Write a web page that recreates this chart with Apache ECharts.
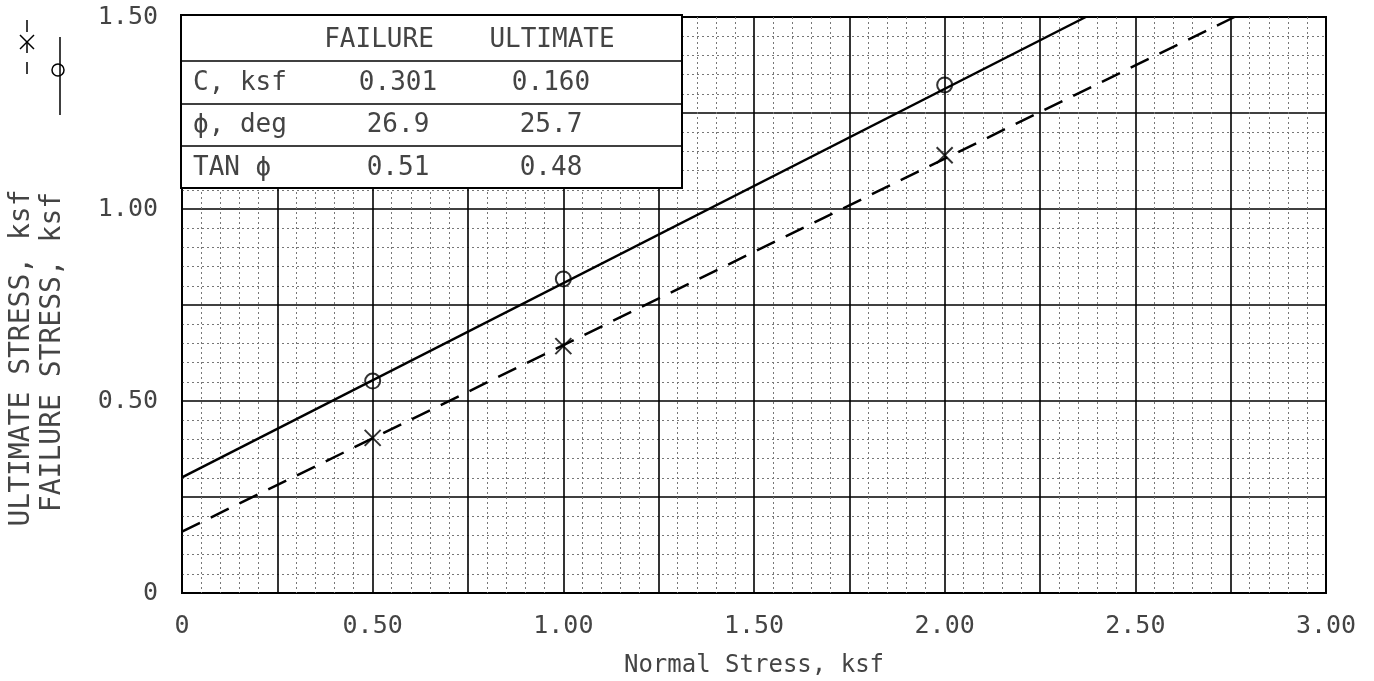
<!DOCTYPE html>
<html>
<head>
<meta charset="utf-8">
<script src="https://cdn.jsdelivr.net/npm/echarts@6/dist/echarts.min.js"></script>
<style>
  html, body { margin: 0; padding: 0; background: #fff; }
  #chart { width: 1374px; height: 681px; }
</style>
</head>
<body>
<div id="chart"></div>
<script>
// test points
const normalStress = [0.5, 1.0, 2.0];
const failureStress = [0.552, 0.818, 1.323];
const ultimateStress = [0.404, 0.643, 1.14];

// fitted envelopes (intercept at 0, end where they leave the frame)
const failureFit = [[0, 0.301], [2.37, 1.5]];
const ultimateFit = [[0, 0.160], [2.76, 1.5]];

// strength table
const tableHeader = ['FAILURE', 'ULTIMATE'];
const tableLabels = ['C, ksf', 'ϕ, deg', 'TAN ϕ'];
const failureParams = ['0.301', '26.9', '0.51'];
const ultimateParams = ['0.160', '25.7', '0.48'];

const MONO = '"DejaVu Sans Mono", monospace';
const TXT = '#444';

let chart = echarts.init(document.getElementById('chart'));

function tickFmt(v) {
  if (Math.abs(v * 2 - Math.round(v * 2)) > 1e-6) return '';
  return v === 0 ? '0' : v.toFixed(2);
}

// table overlay in the upper left corner
let tableEls = [];
const tL = 181, tT = 15, tW = 501, tH = 173;
const rowLines = [61, 104, 146];
const rowMid = [40, 83, 125, 168];
tableEls.push({
  type: 'rect', shape: { x: tL, y: tT, width: tW, height: tH },
  style: { fill: '#fff', stroke: '#000', lineWidth: 2 }, z: 10
});
rowLines.forEach(function (y) {
  tableEls.push({
    type: 'line', shape: { x1: tL, y1: y, x2: tL + tW, y2: y },
    style: { stroke: '#000', lineWidth: 1.5 }, z: 11
  });
});
const tFont = '26px ' + MONO;
tableEls.push({ type: 'text', x: 379, y: rowMid[0], z: 12,
  style: { text: tableHeader[0], fill: TXT, font: tFont, align: 'center', verticalAlign: 'middle' } });
tableEls.push({ type: 'text', x: 552, y: rowMid[0], z: 12,
  style: { text: tableHeader[1], fill: TXT, font: tFont, align: 'center', verticalAlign: 'middle' } });
tableLabels.forEach(function (lab, i) {
  tableEls.push({ type: 'text', x: 193, y: rowMid[i + 1], z: 12,
    style: { text: lab, fill: TXT, font: tFont, align: 'left', verticalAlign: 'middle' } });
  tableEls.push({ type: 'text', x: 398, y: rowMid[i + 1], z: 12,
    style: { text: failureParams[i], fill: TXT, font: tFont, align: 'center', verticalAlign: 'middle' } });
  tableEls.push({ type: 'text', x: 551, y: rowMid[i + 1], z: 12,
    style: { text: ultimateParams[i], fill: TXT, font: tFont, align: 'center', verticalAlign: 'middle' } });
});

// rotated y titles + their little line keys
let titleEls = [
  { type: 'text', x: 22, y: 358, rotation: Math.PI / 2,
    style: { text: 'ULTIMATE STRESS, ksf', fill: TXT, font: '28px ' + MONO, align: 'center', verticalAlign: 'middle' } },
  { type: 'text', x: 53, y: 352, rotation: Math.PI / 2,
    style: { text: 'FAILURE STRESS, ksf', fill: TXT, font: '28px ' + MONO, align: 'center', verticalAlign: 'middle' } },
  // dashed key with x
  { type: 'line', shape: { x1: 27, y1: 20, x2: 27, y2: 83 },
    style: { stroke: '#000', lineWidth: 1.5, lineDash: [12, 9] } },
  { type: 'line', shape: { x1: 20, y1: 35, x2: 34, y2: 49 }, style: { stroke: '#000', lineWidth: 1.5 } },
  { type: 'line', shape: { x1: 34, y1: 35, x2: 20, y2: 49 }, style: { stroke: '#000', lineWidth: 1.5 } },
  // solid key with circle
  { type: 'line', shape: { x1: 60, y1: 37, x2: 60, y2: 115 }, style: { stroke: '#000', lineWidth: 1.5 } },
  { type: 'circle', shape: { cx: 58, cy: 70, r: 6 }, style: { fill: 'none', stroke: '#000', lineWidth: 1.5 } }
];

let option = {
  backgroundColor: '#fff',
  animation: false,
  grid: {
    left: 182, right: 48, top: 17, bottom: 88,
    outerBoundsMode: 'none',
    show: true, borderColor: '#000', borderWidth: 2, backgroundColor: 'transparent'
  },
  xAxis: {
    type: 'value', min: 0, max: 3, interval: 0.25,
    name: 'Normal Stress, ksf', nameLocation: 'middle', nameGap: 61,
    nameTextStyle: { color: TXT, fontFamily: MONO, fontSize: 24 },
    axisLine: { show: false }, axisTick: { show: false },
    axisLabel: { formatter: tickFmt, color: TXT, fontFamily: MONO, fontSize: 25, margin: 21, showMaxLabel: true, showMinLabel: true },
    splitLine: { show: true, lineStyle: { color: '#000', width: 1.6 } },
    minorTick: { show: false, splitNumber: 5 },
    minorSplitLine: { show: true, lineStyle: { color: '#777', width: 1, type: [2, 3] } }
  },
  yAxis: {
    type: 'value', min: 0, max: 1.5, interval: 0.25,
    axisLine: { show: false }, axisTick: { show: false },
    axisLabel: { formatter: tickFmt, color: TXT, fontFamily: MONO, fontSize: 25, margin: 24 },
    splitLine: { show: true, lineStyle: { color: '#000', width: 1.6 } },
    minorTick: { show: false, splitNumber: 5 },
    minorSplitLine: { show: true, lineStyle: { color: '#777', width: 1, type: [2, 3] } }
  },
  graphic: titleEls.concat(tableEls),
  series: [
    {
      name: 'Failure envelope', type: 'line', data: failureFit,
      showSymbol: false, lineStyle: { color: '#000', width: 2.5 }, z: 3
    },
    {
      name: 'Ultimate envelope', type: 'line', data: ultimateFit,
      showSymbol: false, lineStyle: { color: '#000', width: 2.5, type: [20, 12] }, z: 3
    },
    {
      name: 'Failure', type: 'scatter', symbol: 'circle', symbolSize: 15,
      data: normalStress.map(function (x, i) { return [x, failureStress[i]]; }),
      itemStyle: { color: 'transparent', borderColor: '#000', borderWidth: 2 }, z: 4
    },
    {
      name: 'Ultimate', type: 'scatter', symbol: 'path://M0,0L10,10M10,0L0,10', symbolSize: 16,
      data: normalStress.map(function (x, i) { return [x, ultimateStress[i]]; }),
      itemStyle: { color: 'transparent', borderColor: '#000', borderWidth: 2 }, z: 4
    }
  ]
};

chart.setOption(option);
window.onresize = function () { chart.resize(); };
</script>
</body>
</html>
